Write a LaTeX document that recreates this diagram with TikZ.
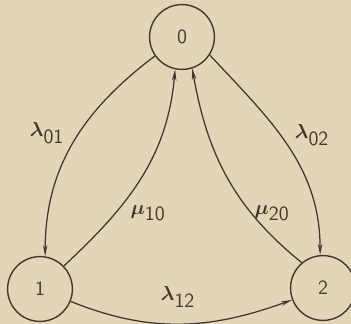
\documentclass[tikz,border=0pt]{standalone}
\usepackage{amsmath}
\usepackage{xcolor}
\usetikzlibrary{arrows.meta}
\definecolor{paper}{RGB}{227,213,183}
\definecolor{ink}{RGB}{66,56,44}
\newcommand{\rt}[2]{$\boldsymbol{#1}_{\textstyle\mathsf{#2}}$}

\begin{document}
\begin{tikzpicture}[x=0.025cm,y=0.025cm,
    state/.style={circle,draw=ink,line width=1pt,minimum size=1.62cm,inner sep=0pt,font=\Large\sffamily,text=ink},
    rate/.style={draw=ink,line width=0.9pt,-{Stealth[length=8pt,width=3.2pt]}},
    lab/.style={font=\Large,text=ink,inner sep=0pt}]
        \useasboundingbox (0,0) rectangle (351,324);
        \fill[paper] (0,0) rectangle (351,324);

        \node[state] (s0) at (182,287) {0};
        \node[state] (s1) at (40,35) {1};
        \node[state] (s2) at (323,36) {2};

        \draw[rate] (s0.215) to[out=217,in=90] (s1.81);
        \draw[rate] (s1.44) to[out=43,in=-95] (s0.258);
        \draw[rate] (s2.130) to[out=141,in=-80] (s0.288);
        \draw[rate] (s0.-33) to[out=-47,in=90] (s2.95);
        \draw[rate] (s1.-22) to[out=-22,in=200] (s2.201);

        \node[lab] (l01) at (47,191) {\rt{\lambda}{01}};
        \node[lab] (l02) at (312,189) {\rt{\lambda}{02}};
        \node[lab] (m10) at (148,111) {\rt{\mu}{10}};
        \node[lab] (m20) at (272,111) {\rt{\mu}{20}};
        \node[lab] (l12) at (178,27) {\rt{\lambda}{12}};
    \end{tikzpicture}
\end{document}
